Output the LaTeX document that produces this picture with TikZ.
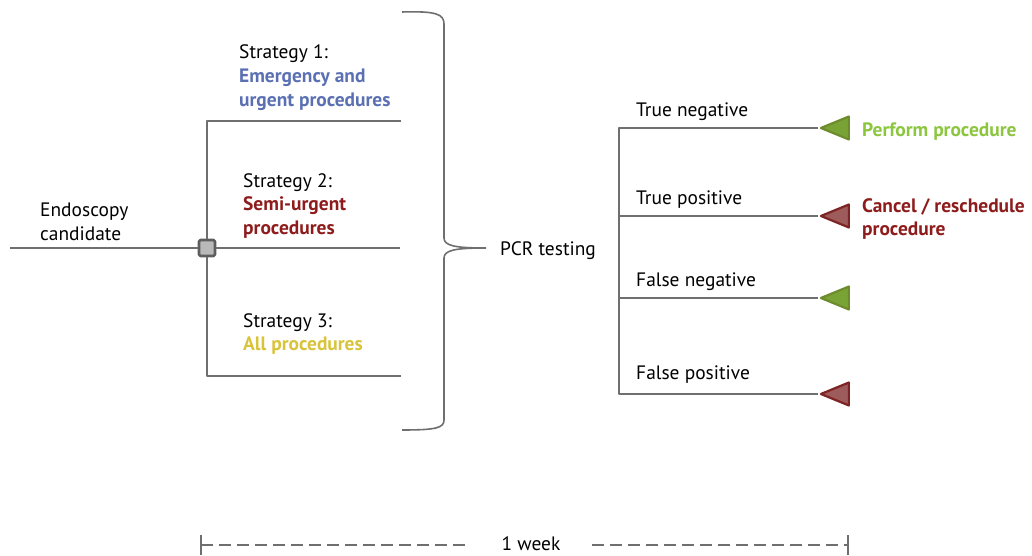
\documentclass[tikz,border=0pt]{standalone}
\usepackage{fontspec}
\setmainfont{PT Sans}
\usetikzlibrary{shapes.geometric}
\definecolor{linegray}{HTML}{6F6F6F}
\definecolor{stratblue}{HTML}{5A70B2}
\definecolor{stratred}{HTML}{8E1C1C}
\definecolor{stratyellow}{HTML}{D9C33A}
\definecolor{okgreen}{HTML}{8CC63F}
\definecolor{triggreen}{HTML}{6E8C2E}
\definecolor{trigred}{HTML}{7E2424}
\begin{document}
\begin{tikzpicture}[>=latex,line join=bevel,font=\fontsize{19.5}{24}\selectfont,
  branch/.style={draw=linegray,line width=1.4bp},
  lbl/.style={anchor=west,align=left,inner sep=0pt},
  decision/.style={draw=linegray!85!black,fill=gray!55,line width=2.6bp,minimum size=16bp,inner sep=0pt,rounded corners=1.5bp},
  outcome/.style={isosceles triangle,isosceles triangle stretches,shape border rotate=180,minimum height=28bp,minimum width=23bp,inner sep=0pt,line width=2.2bp,line join=round,anchor=apex},
  goodend/.style={outcome,draw=triggreen,fill=triggreen!60!okgreen},
  badend/.style={outcome,draw=trigred,fill=trigred!75!white},
]
\useasboundingbox (0bp,0bp) rectangle (1032bp,556bp);
%%
\coordinate (start) at (10bp,308bp);
  \node (decision) at (207bp,308bp) [decision] {};
  \coordinate (s1top) at (207bp,435bp);
  \coordinate (s1end) at (401bp,435bp);
  \coordinate (s2end) at (400bp,308bp);
  \coordinate (s3bot) at (207bp,180bp);
  \coordinate (s3end) at (401bp,180bp);
  \node (candidate) at (40bp,334bp) [lbl] {Endoscopy\\candidate};
  \node (strategy1) at (239bp,478bp) [lbl] {Strategy 1:\\\textcolor{stratblue}{\bfseries Emergency and}\\\textcolor{stratblue}{\bfseries urgent procedures}};
  \node (strategy2) at (243bp,350bp) [lbl] {Strategy 2:\\\textcolor{stratred}{\bfseries Semi-urgent}\\\textcolor{stratred}{\bfseries procedures}};
  \node (strategy3) at (243bp,222bp) [lbl] {Strategy 3:\\\textcolor{stratyellow}{\bfseries All procedures}};
  \node (pcr) at (500bp,305bp) [lbl] {PCR testing};
  \draw [branch] (start) -- (decision) -- (s2end);
  \draw [branch] (s1end) -- (s1top) -- (decision) -- (s3bot) -- (s3end);
  % brace
  \draw [branch,line width=1.6bp] (402bp,544bp) .. controls (436bp,545bp) and (444bp,542bp) .. (444bp,532bp) -- (444bp,318bp) .. controls (444bp,310bp) and (456bp,308bp) .. (486bp,308bp) .. controls (456bp,308bp) and (444bp,306bp) .. (444bp,298bp) -- (444bp,136bp) .. controls (444bp,128bp) and (436bp,126bp) .. (402bp,126bp);
  % test outcomes
  \coordinate (tn) at (619bp,428bp);
  \coordinate (tp) at (619bp,340bp);
  \coordinate (fn) at (619bp,258bp);
  \coordinate (fp) at (619bp,162bp);
  \node (tnend) at (818bp,428bp) [goodend] {};
  \node (tpend) at (818bp,340bp) [badend] {};
  \node (fnend) at (818bp,258bp) [goodend] {};
  \node (fpend) at (818bp,162bp) [badend] {};
  \draw [branch] (tnend.apex) -- (tn) -- (fp) -- (fpend.apex);
  \draw [branch] (tp) -- (tpend.apex);
  \draw [branch] (fn) -- (fnend.apex);
  \node (tnlbl) at (636bp,444bp) [lbl] {True negative};
  \node (tplbl) at (636bp,356bp) [lbl] {True positive};
  \node (fnlbl) at (636bp,274bp) [lbl] {False negative};
  \node (fplbl) at (636bp,181bp) [lbl] {False positive};
  \node (perform) at (862bp,424bp) [lbl,text=okgreen,font=\fontsize{19.5}{24}\selectfont\bfseries] {Perform procedure};
  \node (cancel) at (862bp,337bp) [lbl,text=stratred,font=\fontsize{19.5}{24}\selectfont\bfseries] {Cancel / reschedule\\procedure};
  % time scale
  \coordinate (wstart) at (201bp,11bp);
  \coordinate (wend) at (848bp,11bp);
  \node (week) at (531bp,12bp) [inner xsep=0pt,inner ysep=0pt,minimum width=122bp] {1 week};
  \draw [branch,line width=1.2bp,dash pattern=on 12bp off 6bp] (wstart) -- (wstart -| week.west);
  \draw [branch,line width=1.2bp,dash pattern=on 12bp off 6bp] (wend -| week.east) -- (wend);
  \draw [branch,line width=1.2bp] (201bp,1bp) -- (201bp,21bp);
  \draw [branch,line width=1.2bp] (848bp,1bp) -- (848bp,21bp);
%
\end{tikzpicture}
\end{document}
